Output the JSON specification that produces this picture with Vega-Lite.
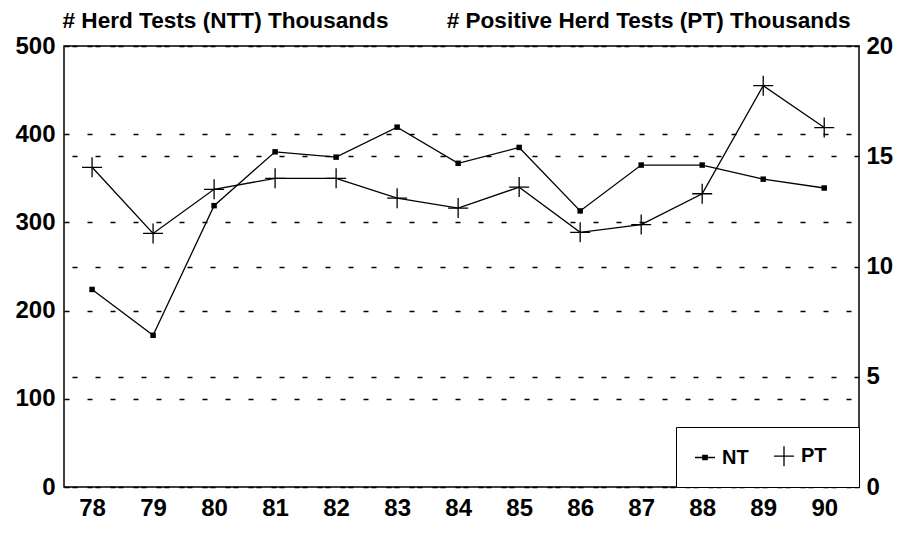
{
  "$schema": "https://vega.github.io/schema/vega-lite/v6.json",
  "width": 795,
  "height": 441,
  "autosize": "none",
  "padding": {"left": 64, "top": 46, "right": 42, "bottom": 47},
  "background": "white",
  "config": {
    "view": {"stroke": "black", "strokeWidth": 1.5},
    "font": "Liberation Sans",
    "axis": {
      "labelFont": "Liberation Sans",
      "labelFontSize": 24,
      "labelFontWeight": "bold",
      "labelColor": "black",
      "titleColor": "black",
      "titleFont": "Liberation Sans",
      "titleFontSize": 22.6,
      "titleFontWeight": "bold",
      "domain": false,
      "ticks": false
    },
    "legend": {
      "orient": "bottom-right",
      "offset": 0,
      "direction": "horizontal",
      "padding": 18,
      "strokeColor": "black",
      "fillColor": "white",
      "labelFont": "Liberation Sans",
      "labelFontSize": 20,
      "labelFontWeight": "bold",
      "labelColor": "black",
      "symbolSize": 400,
      "symbolStrokeColor": "black",
      "symbolStrokeWidth": 1.3,
      "symbolOpacity": 1,
      "columnPadding": 22,
      "labelOffset": 6,
      "titleOrient": "right",
      "titleFontSize": 20,
      "titlePadding": 14
    }
  },
  "data": {
    "values": [
      {"year": 78, "series": "NT", "value": 224},
      {"year": 79, "series": "NT", "value": 172},
      {"year": 80, "series": "NT", "value": 319},
      {"year": 81, "series": "NT", "value": 380},
      {"year": 82, "series": "NT", "value": 374},
      {"year": 83, "series": "NT", "value": 408},
      {"year": 84, "series": "NT", "value": 367},
      {"year": 85, "series": "NT", "value": 385},
      {"year": 86, "series": "NT", "value": 313},
      {"year": 87, "series": "NT", "value": 365},
      {"year": 88, "series": "NT", "value": 365},
      {"year": 89, "series": "NT", "value": 349},
      {"year": 90, "series": "NT", "value": 339},
      {"year": 78, "series": "PT", "value": 14.5},
      {"year": 79, "series": "PT", "value": 11.5},
      {"year": 80, "series": "PT", "value": 13.5},
      {"year": 81, "series": "PT", "value": 14.0},
      {"year": 82, "series": "PT", "value": 14.0},
      {"year": 83, "series": "PT", "value": 13.1},
      {"year": 84, "series": "PT", "value": 12.65},
      {"year": 85, "series": "PT", "value": 13.6},
      {"year": 86, "series": "PT", "value": 11.55},
      {"year": 87, "series": "PT", "value": 11.9},
      {"year": 88, "series": "PT", "value": 13.3},
      {"year": 89, "series": "PT", "value": 18.2},
      {"year": 90, "series": "PT", "value": 16.3}
    ]
  },
  "encoding": {
    "x": {
      "field": "year",
      "type": "quantitative",
      "scale": {"domain": [77.54, 90.57], "nice": false, "zero": false},
      "axis": {
        "values": [78, 79, 80, 81, 82, 83, 84, 85, 86, 87, 88, 89, 90],
        "format": "d",
        "grid": false,
        "labelPadding": 9,
        "title": null
      }
    }
  },
  "layer": [
    {
      "transform": [{"filter": "datum.series === 'NT'"}],
      "encoding": {
        "y": {
          "field": "value",
          "type": "quantitative",
          "scale": {"domain": [0, 500], "nice": false},
          "axis": {
            "orient": "left",
            "values": [0, 100, 200, 300, 400, 500],
            "grid": true,
            "gridColor": "black",
            "gridDash": [5, 18],
            "gridWidth": 1.5,
            "gridOpacity": 1,
            "labelPadding": 9,
            "title": "# Herd Tests (NTT) Thousands",
            "titleAngle": 0,
            "titleAlign": "left",
            "titleBaseline": "alphabetic",
            "titleX": -2,
            "titleY": -19
          }
        }
      },
      "layer": [
        {"mark": {"type": "line", "color": "black", "strokeWidth": 1.3}},
        {"mark": {"type": "point", "shape": "square", "filled": true, "color": "black", "opacity": 1, "size": 30}},
        {
          "mark": {"type": "point", "filled": false, "color": "black", "opacity": 0, "size": 400, "strokeWidth": 1.3},
          "encoding": {
            "shape": {
              "field": "series",
              "type": "nominal",
              "scale": {"domain": ["NT", "PT"], "range": ["M-1,0H1M-0.22,-0.22H0.22V0.22H-0.22ZM-0.1,-0.1H0.1V0.1H-0.1Z", "M-1,0H1M0,-1V1"]},
              "legend": {"title": " "}
            }
          }
        }
      ]
    },
    {
      "transform": [{"filter": "datum.series === 'PT'"}],
      "encoding": {
        "y": {
          "field": "value",
          "type": "quantitative",
          "scale": {"domain": [0, 20], "nice": false},
          "axis": {
            "orient": "right",
            "values": [0, 5, 10, 15, 20],
            "grid": true,
            "gridColor": "black",
            "gridDash": [5, 18],
            "gridWidth": 1.5,
            "gridOpacity": 1,
            "labelPadding": 7,
            "title": "# Positive Herd Tests (PT) Thousands",
            "titleAngle": 0,
            "titleAlign": "right",
            "titleBaseline": "alphabetic",
            "titleX": -9,
            "titleY": -19
          }
        }
      },
      "layer": [
        {"mark": {"type": "line", "color": "black", "strokeWidth": 1.3}},
        {"mark": {"type": "point", "shape": "M-1,0H1M0,-1V1", "filled": false, "color": "black", "opacity": 1, "size": 400, "strokeWidth": 1.3}},
        {
          "mark": {"type": "point", "filled": false, "color": "black", "opacity": 0, "size": 400, "strokeWidth": 1.3},
          "encoding": {
            "shape": {"field": "series", "type": "nominal", "legend": {"title": " "}}
          }
        }
      ]
    }
  ],
  "resolve": {"scale": {"y": "independent"}}
}
